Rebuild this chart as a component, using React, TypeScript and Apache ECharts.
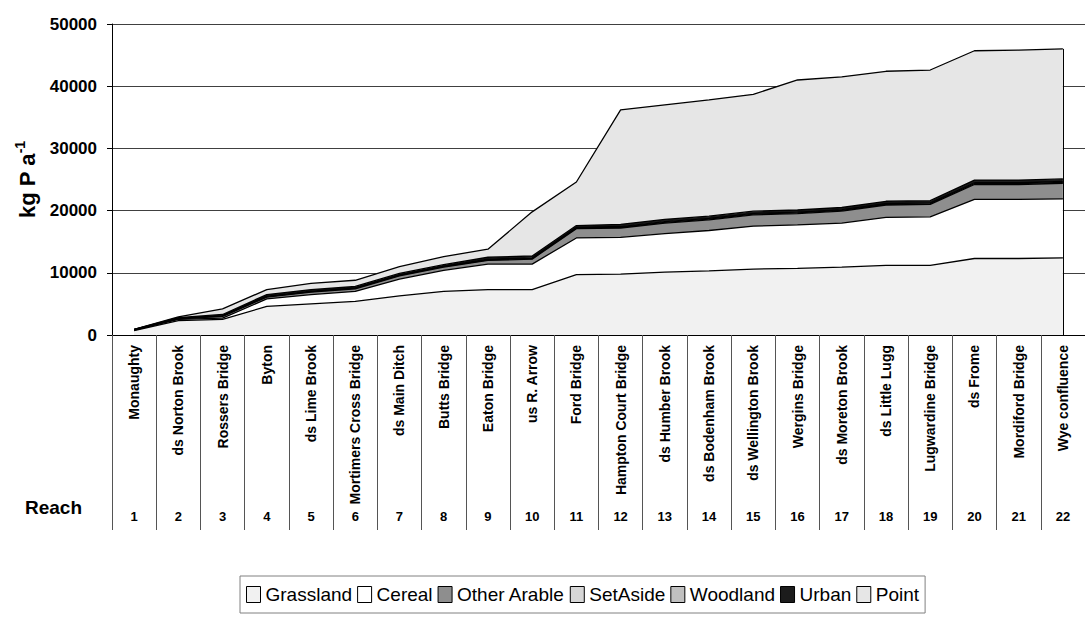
import React, { useEffect, useRef } from 'react';
import * as echarts from 'echarts';

const reaches = [
  'Monaughty', 'ds Norton Brook', 'Rossers Bridge', 'Byton', 'ds Lime Brook',
  'Mortimers Cross Bridge', 'ds Main Ditch', 'Butts Bridge', 'Eaton Bridge', 'us R. Arrow',
  'Ford Bridge', 'Hampton Court Bridge', 'ds Humber Brook', 'ds Bodenham Brook',
  'ds Wellington Brook', 'Wergins Bridge', 'ds Moreton Brook', 'ds Little Lugg',
  'Lugwardine Bridge', 'ds Frome', 'Mordiford Bridge', 'Wye confluence',
];
const reachNumbers = ['1', '2', '3', '4', '5', '6', '7', '8', '9', '10', '11', '12', '13', '14', '15', '16', '17', '18', '19', '20', '21', '22'];

const grassland = [700, 2300, 2500, 4600, 5000, 5400, 6300, 7000, 7300, 7300, 9700, 9800, 10100, 10300, 10600, 10700, 10900, 11200, 11200, 12300, 12300, 12400];
const cereal = [100, 200, 200, 1200, 1500, 1600, 2700, 3400, 4100, 4100, 5900, 5900, 6200, 6500, 6900, 7000, 7100, 7700, 7800, 9500, 9500, 9500];
const otherArable = [50, 100, 300, 300, 400, 400, 500, 500, 600, 800, 1500, 1500, 1700, 1700, 1800, 1800, 1900, 2000, 2000, 2400, 2400, 2500];
const setAside = [10, 50, 60, 80, 80, 80, 80, 80, 100, 100, 100, 120, 120, 120, 120, 120, 120, 120, 120, 140, 140, 140];
const woodland = [10, 50, 60, 80, 80, 80, 80, 80, 100, 100, 100, 120, 120, 120, 120, 120, 120, 120, 120, 140, 140, 140];
const urban = [30, 100, 180, 240, 240, 240, 240, 240, 300, 300, 300, 360, 360, 360, 360, 360, 360, 360, 360, 420, 420, 420];
const point = [0, 100, 900, 800, 1000, 1000, 1100, 1300, 1300, 7100, 7000, 18400, 18400, 18700, 18800, 20900, 21000, 20900, 21000, 20800, 20900, 20900];

const yMin = 0;
const yMax = 50000;
const yInterval = 10000;

const FONT = "'Liberation Sans', Arial, Helvetica, sans-serif";

const layers = [
  { name: 'Grassland', values: grassland, color: '#f1f1f1' },
  { name: 'Cereal', values: cereal, color: '#ffffff' },
  { name: 'Other Arable', values: otherArable, color: '#8e8e8e' },
  { name: 'SetAside', values: setAside, color: '#d6d6d6' },
  { name: 'Woodland', values: woodland, color: '#c0c0c0' },
  { name: 'Urban', values: urban, color: '#1c1c1c' },
  { name: 'Point', values: point, color: '#e6e6e6' },
];

export default function App() {
  const ref = useRef<HTMLDivElement>(null);
  useEffect(() => {
    if (!ref.current) return;
    const chart = echarts.init(ref.current, null, { renderer: 'svg' });
    const last = reaches.length - 1;
    const lastTotal = layers.reduce((s, l) => s + l.values[last], 0);
    const series = layers.map((l, i) => ({
      name: l.name,
      type: 'line',
      stack: 'total',
      data: l.values,
      symbol: 'rect',
      showSymbol: false,
      silent: true,
      lineStyle: { color: '#000', width: 1.3 },
      itemStyle: { color: l.color },
      areaStyle: { color: l.color, opacity: 1 },
      emphasis: { disabled: true },
      ...(i === layers.length - 1
        ? {
            markLine: {
              silent: true,
              symbol: 'none',
              label: { show: false },
              lineStyle: { color: '#000', width: 1, type: 'solid' },
              data: [[{ coord: [reaches[last], 0] }, { coord: [reaches[last], lastTotal] }]],
            },
          }
        : {}),
    }));
    chart.setOption({
      animation: false,
      backgroundColor: '#fff',
      grid: { left: 112, top: 24, width: 983, height: 311, containLabel: false },
      legend: {
        left: 240,
        top: 576,
        orient: 'horizontal',
        itemWidth: 14,
        itemHeight: 16,
        itemGap: 5,
        padding: [9, 6, 9, 6],
        borderColor: '#808080',
        borderWidth: 1,
        selectedMode: false,
        icon: 'rect',
        textStyle: { fontSize: 19, color: '#000', fontFamily: FONT },
        lineStyle: { width: 0 },
        itemStyle: { borderColor: '#000', borderWidth: 1 },
        data: layers.map((l) => l.name),
      },
      xAxis: [
        {
          type: 'category',
          data: reaches,
          boundaryGap: true,
          position: 'bottom',
          axisLine: { show: true, lineStyle: { color: '#000', width: 1 } },
          axisTick: { show: true, length: 195, lineStyle: { color: '#555', width: 1 } },
          axisLabel: {
            interval: 0,
            rotate: 90,
            margin: 10,
            fontSize: 14,
            fontWeight: 'bold',
            color: '#000',
            fontFamily: FONT,
          },
          splitLine: { show: false },
        },
        {
          type: 'category',
          data: reachNumbers,
          boundaryGap: true,
          position: 'bottom',
          offset: 172,
          axisLine: { show: false },
          axisTick: { show: false },
          axisLabel: {
            interval: 0,
            margin: 3,
            fontSize: 13,
            fontWeight: 'bold',
            color: '#000',
            fontFamily: FONT,
          },
          name: 'Reach',
          nameLocation: 'start',
          nameGap: 30,
          nameTextStyle: { fontSize: 19, fontWeight: 'bold', color: '#000', fontFamily: FONT, verticalAlign: 'middle' },
        },
      ],
      yAxis: {
        type: 'value',
        min: yMin,
        max: yMax,
        interval: yInterval,
        axisLine: { show: true, lineStyle: { color: '#000', width: 1 } },
        axisTick: { show: true, length: 5, lineStyle: { color: '#000' } },
        axisLabel: {
          margin: 15,
          fontSize: 17,
          fontWeight: 'bold',
          color: '#000',
          fontFamily: FONT,
          formatter: (v: number) => String(v),
        },
        splitLine: { show: true, lineStyle: { color: '#404040', width: 1 } },
        name: '{a|kg P a}{b|-1}',
        nameLocation: 'middle',
        nameRotate: 90,
        nameGap: 67,
        nameTextStyle: {
          rich: {
            a: { fontSize: 22, fontWeight: 'bold', color: '#000', fontFamily: FONT, lineHeight: 26, verticalAlign: 'bottom' },
            b: { fontSize: 14, fontWeight: 'bold', color: '#000', fontFamily: FONT, verticalAlign: 'top' },
          },
        },
      },
      series,
    });
    return () => chart.dispose();
  }, []);
  return (
    <div
      ref={ref}
      style={{ position: 'absolute', left: 0, top: 0, width: 1085, height: 617, background: '#fff' }}
    />
  );
}
